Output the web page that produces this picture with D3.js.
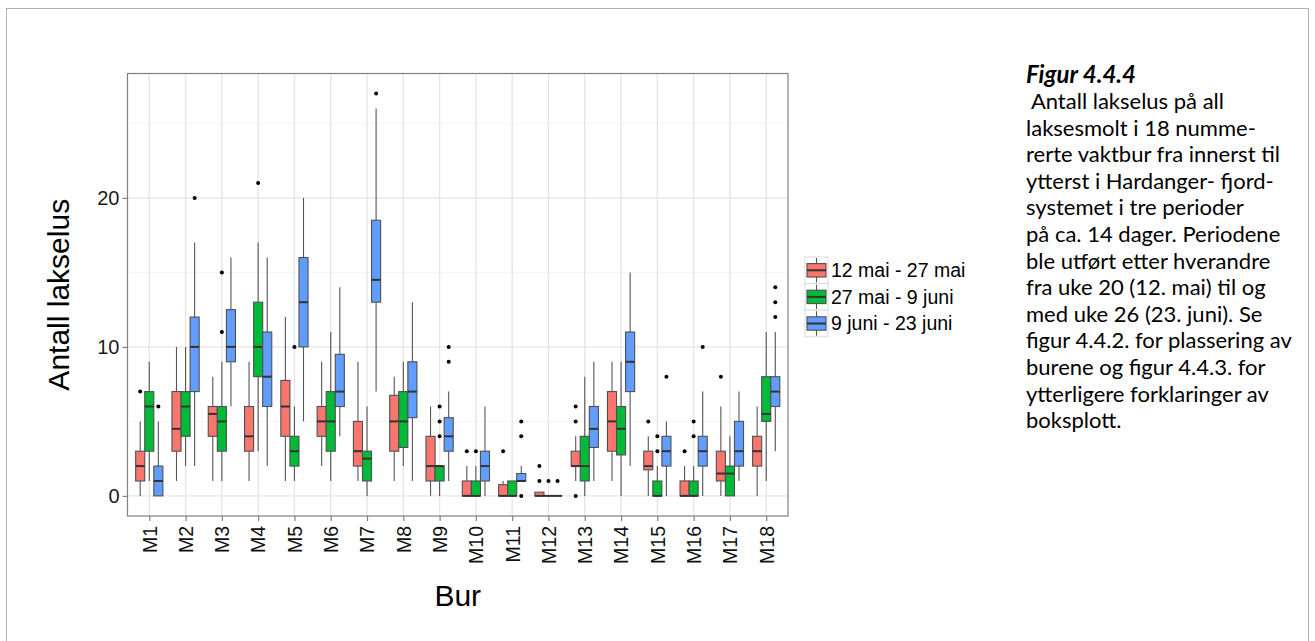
<!DOCTYPE html>
<html>
<head>
<meta charset="utf-8">
<script src="https://cdn.jsdelivr.net/npm/d3@7"></script>
<style>
  html, body { margin: 0; padding: 0; background: #fff; }
  svg { display: block; }
</style>
</head>
<body>
<svg id="chart" width="1315" height="641"></svg>
<script>
// Cages, sampling periods and colours
const cages = ["M1","M2","M3","M4","M5","M6","M7","M8","M9","M10","M11","M12","M13","M14","M15","M16","M17","M18"];
const periods = ["12 mai - 27 mai", "27 mai - 9 juni", "9 juni - 23 juni"];
const periodColors = ["#F8766D", "#00BA38", "#619CFF"];

// Box statistics per cage: [lower whisker, Q1, median, Q3, upper whisker]
const statsMay12 = [
  [0,1,2,3,5], [1,3,4.5,7,10], [1,4,5.5,6,8], [1,3,4,6,9], [1,4,6,7.75,12], [2,4,5,6,9],
  [1,2,3,5,9], [1,3,5,6.75,8], [0,1,2,4,6], [0,0,0,1,2], [0,0,0,0.75,1], [0,0,0,0.25,0.25],
  [1,2,2,3,4], [1,3,5,7,9], [0,1.75,2,3,4], [0,0,0,1,2], [0,1,1.5,3,6], [0,2,3,4,6]
];
const statsMay27 = [
  [1,3,6,7,9], [2,4,6,7,10], [1,3,5,6,9], [3,8,10,13,17], [1,2,3,4,6], [1,3,5,7,11],
  [0,1,2.5,3,6], [2,3.25,5,7,9], [0,1,2,2,2], [0,0,0,1,2], [0,0,0,1,1], [0,0,0,0,0],
  [0,1,2,4,8], [0,2.75,4.5,6,9], [0,0,0,1,2], [0,0,0,1,2], [0,0,1.5,2,4], [1,5,5.5,8,11]
];
const statsJun9 = [
  [0,0,1,2,5], [2,7,10,12,17], [6,9,10,12.5,16], [2,6,8,11,16], [5,10,13,16,20], [4,6,7,9.5,14],
  [7,13,14.5,18.5,26], [1,5.25,7,9,13], [1,3,4,5.25,7], [0,1,2,3,6], [1,1,1,1.5,2], [0,0,0,0,0],
  [1,3.25,4.5,6,9], [2,7,9,11,15], [0,2,3,4,5], [0,2,3,4,7], [1,2,3,5,7], [3,6,7,8,11]
];

// Outlying observations per cage
const outliersMay12 = [[7],[],[],[],[],[],[],[],[],[3],[3],[1,2],[0,5,6],[],[5],[3],[8],[]];
const outliersMay27 = [[],[],[11,15],[21],[10],[],[],[],[4,5,6],[3],[],[1],[],[],[3,4],[4,5],[],[]];
const outliersJun9  = [[6],[20],[],[],[],[],[27],[],[9,10],[],[0,4,5],[1],[],[],[8],[10],[],[12,13,14]];

const yTicks = [0, 10, 20];
const yMinorTicks = [5, 15, 25];

const captionTitle = "Figur 4.4.4";
const captionLines = [
  "\u00a0Antall lakselus på all",
  "laksesmolt i 18 numme-",
  "rerte vaktbur fra innerst til",
  "ytterst i Hardanger- fjord-",
  "systemet i tre perioder",
  "på ca. 14 dager. Periodene",
  "ble utført etter hverandre",
  "fra uke 20 (12. mai) til og",
  "med uke 26 (23. juni). Se",
  "figur 4.4.2. for plassering av",
  "burene og figur 4.4.3. for",
  "ytterligere forklaringer av",
  "boksplott."
];

const allStats = [statsMay12, statsMay27, statsJun9];
const allOutliers = [outliersMay12, outliersMay27, outliersJun9];

const svg = d3.select("#chart");
const font = "'Liberation Sans', Arial, sans-serif";
const captionFont = "Lato, 'Open Sans', sans-serif";

// Page frame
svg.append("rect")
  .attr("x", 6.5).attr("y", 8.5).attr("width", 1302).attr("height", 700)
  .attr("fill", "none").attr("stroke", "#b3b3b3").attr("stroke-width", 1);

// Panel geometry
const panel = { left: 127.5, right: 788, top: 73.5, bottom: 516 };

const x = d3.scalePoint().domain(cages).range([panel.left, panel.right]).padding(0.6);
const step = x.step();
const y = d3.scaleLinear().domain([-1.35, 28.35]).range([panel.bottom, panel.top]);

const g = svg.append("g");

// Panel background
g.append("rect")
  .attr("x", panel.left).attr("y", panel.top)
  .attr("width", panel.right - panel.left).attr("height", panel.bottom - panel.top)
  .attr("fill", "#fff");

// Minor horizontal grid
g.selectAll(".yminor").data(yMinorTicks).join("line")
  .attr("x1", panel.left).attr("x2", panel.right)
  .attr("y1", d => y(d)).attr("y2", d => y(d))
  .attr("stroke", "#f5f5f5").attr("stroke-width", 1);

// Major grid
g.selectAll(".ymajor").data(yTicks).join("line")
  .attr("x1", panel.left).attr("x2", panel.right)
  .attr("y1", d => y(d)).attr("y2", d => y(d))
  .attr("stroke", "#e6e6e6").attr("stroke-width", 1.4);

g.selectAll(".xmajor").data(cages).join("line")
  .attr("x1", d => x(d)).attr("x2", d => x(d))
  .attr("y1", panel.top).attr("y2", panel.bottom)
  .attr("stroke", "#e6e6e6").attr("stroke-width", 1.4);

// Boxplots
const boxW = step * 0.25;
allStats.forEach((stats, k) => {
  const off = (k - 1) * boxW;
  const grp = g.append("g");
  stats.forEach((s, i) => {
    const cx = x(cages[i]) + off;
    const [lo, q1, med, q3, hi] = s;
    grp.append("line")
      .attr("x1", cx).attr("x2", cx).attr("y1", y(hi)).attr("y2", y(q3))
      .attr("stroke", "#555").attr("stroke-width", 1.1);
    grp.append("line")
      .attr("x1", cx).attr("x2", cx).attr("y1", y(q1)).attr("y2", y(lo))
      .attr("stroke", "#555").attr("stroke-width", 1.1);
    grp.append("rect")
      .attr("x", cx - boxW / 2).attr("y", y(q3))
      .attr("width", boxW).attr("height", Math.max(0, y(q1) - y(q3)))
      .attr("fill", periodColors[k])
      .attr("stroke", "#505050").attr("stroke-width", 1.1);
    grp.append("line")
      .attr("x1", cx - boxW / 2).attr("x2", cx + boxW / 2)
      .attr("y1", y(med)).attr("y2", y(med))
      .attr("stroke", "#333").attr("stroke-width", 2);
    allOutliers[k][i].forEach(v => {
      grp.append("circle")
        .attr("cx", cx).attr("cy", y(v)).attr("r", 2)
        .attr("fill", "#000");
    });
  });
});

// Panel border
g.append("rect")
  .attr("x", panel.left).attr("y", panel.top)
  .attr("width", panel.right - panel.left).attr("height", panel.bottom - panel.top)
  .attr("fill", "none").attr("stroke", "#808080").attr("stroke-width", 1.2);

// Y axis
const yAxis = svg.append("g").attr("transform", `translate(${panel.left},0)`)
  .call(d3.axisLeft(y).tickValues(yTicks).tickSize(5).tickPadding(3));
yAxis.select(".domain").remove();
yAxis.selectAll(".tick line").attr("stroke", "#808080").attr("stroke-width", 1.2);
yAxis.selectAll(".tick text")
  .attr("font-family", font).attr("font-size", 20).attr("fill", "#1a1a1a");

// X axis
const xAxis = svg.append("g").attr("transform", `translate(0,${panel.bottom})`)
  .call(d3.axisBottom(x).tickSize(5).tickPadding(0));
xAxis.select(".domain").remove();
xAxis.selectAll(".tick line").attr("stroke", "#808080").attr("stroke-width", 1.2);
xAxis.selectAll(".tick text")
  .attr("font-family", font).attr("font-size", 19.5).attr("fill", "#111")
  .attr("text-anchor", "end")
  .attr("transform", "translate(0,10) rotate(-90)")
  .attr("x", 0).attr("y", 0).attr("dy", "0.35em");

// Axis titles
svg.append("text")
  .attr("x", (panel.left + panel.right) / 2).attr("y", 606)
  .attr("text-anchor", "middle")
  .attr("font-family", font).attr("font-size", 30).attr("fill", "#000")
  .text("Bur");

svg.append("text")
  .attr("transform", `translate(69,${(panel.top + panel.bottom) / 2}) rotate(-90)`)
  .attr("text-anchor", "middle")
  .attr("font-family", font).attr("font-size", 30).attr("fill", "#000")
  .text("Antall lakselus");

// Legend
const legend = svg.append("g").attr("transform", "translate(805,257)");
const keyW = 23, keyH = 26.6;
periods.forEach((p, k) => {
  const ky = k * keyH;
  const kg = legend.append("g").attr("transform", `translate(0,${ky})`);
  kg.append("rect").attr("x", 0).attr("y", 0).attr("width", keyW).attr("height", keyH)
    .attr("fill", "#fff").attr("stroke", "#dadada").attr("stroke-width", 1);
  kg.append("line").attr("x1", keyW / 2).attr("x2", keyW / 2).attr("y1", 1).attr("y2", keyH - 1)
    .attr("stroke", "#555").attr("stroke-width", 1.1);
  kg.append("rect").attr("x", 2).attr("y", keyH / 2 - 6.7).attr("width", keyW - 4).attr("height", 13.4)
    .attr("fill", periodColors[k]).attr("stroke", "#505050").attr("stroke-width", 1.1);
  kg.append("line").attr("x1", 2).attr("x2", keyW - 2).attr("y1", keyH / 2).attr("y2", keyH / 2)
    .attr("stroke", "#333").attr("stroke-width", 2);
  kg.append("text").attr("x", keyW + 3).attr("y", keyH / 2 + 7)
    .attr("font-family", font).attr("font-size", 19.5).attr("fill", "#000")
    .text(p);
});

// Caption
const cap = svg.append("g").attr("transform", "translate(1026,0)");
cap.append("text").attr("x", 0).attr("y", 83)
  .attr("font-family", captionFont).attr("font-size", 24)
  .attr("font-weight", "bold").attr("font-style", "italic").attr("fill", "#000")
  .text(captionTitle);
cap.selectAll(".capline").data(captionLines).join("text")
  .attr("x", 0).attr("y", (d, i) => 109 + i * 26.6)
  .attr("font-family", captionFont).attr("font-size", 22)
  .attr("fill", "#000")
  .text(d => d);
</script>
</body>
</html>
